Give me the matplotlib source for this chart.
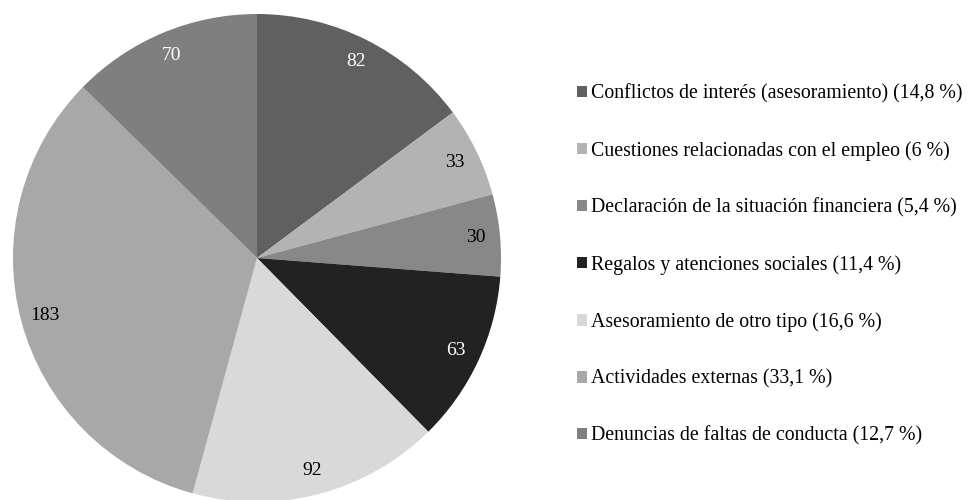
import matplotlib
matplotlib.use("Agg")
import matplotlib.pyplot as plt
from matplotlib.patches import Patch

categories = [
    "Conflictos de interés (asesoramiento) (14,8 %)",
    "Cuestiones relacionadas con el empleo (6 %)",
    "Declaración de la situación financiera (5,4 %)",
    "Regalos y atenciones sociales (11,4 %)",
    "Asesoramiento de otro tipo (16,6 %)",
    "Actividades externas (33,1 %)",
    "Denuncias de faltas de conducta (12,7 %)",
]
values = [82, 33, 30, 63, 92, 183, 70]
colors = ["#606060", "#b3b3b3", "#888888", "#222222", "#d9d9d9", "#a8a8a8", "#7f7f7f"]
label_colors = ["white", "black", "black", "white", "black", "black", "white"]

plt.rcParams['font.family'] = ['Liberation Serif', 'DejaVu Serif']

fig = plt.figure(figsize=(9.67, 5.0), dpi=100)
W, H = 967, 500
cx, cy, r = 257, 258, 244
ax = fig.add_axes([(cx - r) / W, (H - cy - r) / H, 2 * r / W, 2 * r / H])

wedges, texts = ax.pie(values, colors=colors, startangle=90, counterclock=False,
                       labels=[str(v) for v in values], labeldistance=0.9,
                       radius=1.0, wedgeprops=dict(linewidth=0),
                       textprops=dict(fontsize=14))
for t, c in zip(texts, label_colors):
    t.set_color(c)
    t.set_horizontalalignment('center')
    t.set_verticalalignment('center')
ax.set_xlim(-1, 1)
ax.set_ylim(-1, 1)
ax.set_aspect('equal')
ax.axis('off')

handles = [Patch(facecolor=c, edgecolor='none') for c in colors]
fig.legend(handles, categories, loc='upper left', bbox_to_anchor=(569 / W, 1 - 76 / H),
           frameon=False, fontsize=14.3, handlelength=0.5, handleheight=0.5,
           handletextpad=0.2, labelspacing=1.89, borderaxespad=0)

fig.savefig("out.png", dpi=100)
